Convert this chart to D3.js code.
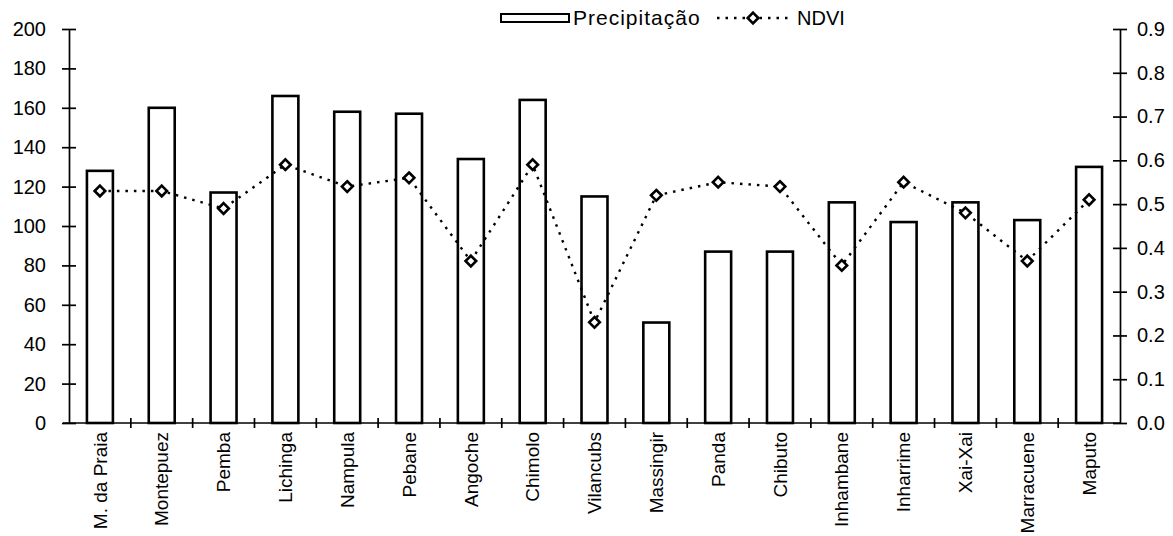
<!DOCTYPE html>
<meta charset="utf-8">
<style>
body { margin: 0; background: #fff; }
svg { font-family: "Liberation Sans", Arial, sans-serif; }
.axis path, .axis line { stroke: #000; stroke-width: 1.7px; }
.axis text { font-size: 20px; fill: #000; }
.bar { fill: #fff; stroke: #000; stroke-width: 2.6px; }
.ndvi { fill: none; stroke: #000; stroke-width: 2.4px; stroke-dasharray: 2.5,6; }
.dot { fill: #fff; stroke: #000; stroke-width: 2.6px; }
</style>
<body>
<script src="https://d3js.org/d3.v7.min.js"></script>
<script>

// data
var stations = ["M. da Praia", "Montepuez", "Pemba", "Lichinga", "Nampula", "Pebane",
  "Angoche", "Chimolo", "Vilancubs", "Massingir", "Panda", "Chibuto", "Inhambane",
  "Inharrime", "Xai-Xai", "Marracuene", "Maputo"];
var precip = [128, 160, 117, 166, 158, 157, 134, 164, 115, 51, 87, 87, 112, 102, 112, 103, 130];
var ndvi = [0.53, 0.53, 0.49, 0.59, 0.54, 0.56, 0.37, 0.59, 0.23, 0.52, 0.55, 0.54, 0.36, 0.55, 0.48, 0.37, 0.51];
var leftTicks = [0, 20, 40, 60, 80, 100, 120, 140, 160, 180, 200];
var rightTicks = [0, 0.1, 0.2, 0.3, 0.4, 0.5, 0.6, 0.7, 0.8, 0.9];

var W = 1173, H = 536;
var x0 = 69, x1 = 1120, yTop = 29, yBot = 423;

var svg = d3.select("body").append("svg")
    .attr("width", W)
    .attr("height", H);

var x = d3.scaleBand().domain(stations).range([x0, x1]).paddingInner(0.58).paddingOuter(0.29);
var yL = d3.scaleLinear().domain([0, 200]).range([yBot, yTop]);
var yR = d3.scaleLinear().domain([0, 0.9]).range([yBot, yTop]);

// bars
svg.selectAll(".bar")
    .data(precip)
  .enter().append("rect")
    .attr("class", "bar")
    .attr("x", function(d, i) { return x(stations[i]); })
    .attr("width", x.bandwidth())
    .attr("y", function(d) { return yL(d); })
    .attr("height", function(d) { return yBot - yL(d); });

// ndvi line
var line = d3.line()
    .x(function(d, i) { return x(stations[i]) + x.bandwidth() / 2; })
    .y(function(d) { return yR(d); });

svg.append("path")
    .attr("class", "ndvi")
    .attr("d", line(ndvi));

var diamond = d3.symbol().type(d3.symbolDiamond2).size(72);
svg.selectAll(".dot")
    .data(ndvi)
  .enter().append("path")
    .attr("class", "dot")
    .attr("d", diamond)
    .attr("transform", function(d, i) {
      return "translate(" + (x(stations[i]) + x.bandwidth() / 2) + "," + yR(d) + ")";
    });

// left axis
var gL = svg.append("g")
    .attr("class", "axis")
    .attr("transform", "translate(" + x0 + ",0)")
    .call(d3.axisLeft(yL).tickValues(leftTicks).tickSize(7).tickPadding(16).tickSizeOuter(0));
gL.selectAll(".tick line").attr("x2", -7).attr("x1", 7);

// right axis
var gR = svg.append("g")
    .attr("class", "axis")
    .attr("transform", "translate(" + x1 + ",0)")
    .call(d3.axisRight(yR).tickValues(rightTicks).tickFormat(d3.format(".1f")).tickSize(7).tickPadding(10).tickSizeOuter(0));
gR.selectAll(".tick line").attr("x2", 7).attr("x1", -7);

// x axis: ticks between categories
var gX = svg.append("g").attr("class", "axis");
gX.append("line")
    .attr("x1", x0 - 6).attr("x2", x1)
    .attr("y1", yBot).attr("y2", yBot);
gX.selectAll(".sep")
    .data(stations.slice(1))
  .enter().append("line")
    .attr("x1", function(d) { return x(d) - x.step() * x.paddingInner() / 2; })
    .attr("x2", function(d) { return x(d) - x.step() * x.paddingInner() / 2; })
    .attr("y1", yBot - 5).attr("y2", yBot + 5);

gX.selectAll(".lab")
    .data(stations)
  .enter().append("text")
    .attr("text-anchor", "end")
    .attr("transform", function(d) {
      return "translate(" + (x(d) + x.bandwidth() / 2) + "," + (yBot + 9) + ") rotate(-90)";
    })
    .attr("dy", "0.35em")
    .style("font-size", "19px")
    .text(function(d) { return d; });

// legend
var lg = svg.append("g").attr("transform", "translate(501,18)");
lg.append("rect")
    .attr("class", "bar")
    .attr("x", 0).attr("y", -4)
    .attr("width", 68).attr("height", 8)
    .style("stroke-width", 2);
lg.append("text")
    .attr("x", 72).attr("dy", "0.35em")
    .style("font-size", "21px")
    .style("letter-spacing", "1px")
    .text("Precipitação");
lg.append("line")
    .attr("class", "ndvi")
    .attr("x1", 216).attr("x2", 291)
    .attr("y1", 0).attr("y2", 0);
lg.append("path")
    .attr("class", "dot")
    .attr("d", diamond)
    .attr("transform", "translate(252,0)");
lg.append("text")
    .attr("x", 296).attr("dy", "0.35em")
    .style("font-size", "20px")
    .text("NDVI");

</script>
</body>
